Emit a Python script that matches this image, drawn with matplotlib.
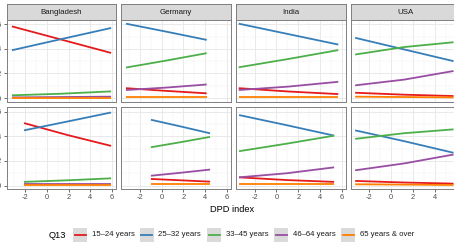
import matplotlib.pyplot as plt
from matplotlib.patches import Rectangle
from matplotlib.lines import Line2D

plt.rcParams['font.family'] = ['Liberation Sans', 'DejaVu Sans']

countries = ['Bangladesh', 'Germany', 'India', 'USA']
age_groups = ['15–24 years', '25–32 years', '33–45 years', '46–64 years', '65 years & over']
colors = ['#E41A1C', '#377EB8', '#4DAF4A', '#984EA3', '#FF7F00']

# DPD index range covered in each panel (start, end)
x_top = [(-3.2, 5.9), (-3.27, 4.14), (-3.46, 5.68), (-3.31, 5.72)]
x_bot = [(-2.09, 5.9), (-0.98, 4.45), (-3.43, 5.3), (-3.31, 5.72)]

# value at start, middle and end of the range, one row per age group
bgd_top = [[0.583, 0.475, 0.367], [0.389, 0.480, 0.570], [0.022, 0.035, 0.054],
           [0.005, 0.008, 0.011], [0.002, 0.002, 0.002]]
deu_top = [[0.080, 0.058, 0.038], [0.605, 0.540, 0.473], [0.248, 0.305, 0.365],
           [0.065, 0.085, 0.110], [0.011, 0.011, 0.011]]
ind_top = [[0.080, 0.053, 0.032], [0.605, 0.520, 0.435], [0.250, 0.318, 0.390],
           [0.065, 0.093, 0.132], [0.011, 0.011, 0.011]]
usa_top = [[0.043, 0.027, 0.016], [0.490, 0.395, 0.300], [0.354, 0.415, 0.454],
           [0.103, 0.150, 0.220], [0.011, 0.008, 0.005]]

bgd_bot = [[0.507, 0.410, 0.322], [0.448, 0.520, 0.593], [0.030, 0.043, 0.059],
           [0.010, 0.010, 0.010], [0.003, 0.003, 0.003]]
deu_bot = [[0.054, 0.043, 0.032], [0.534, 0.480, 0.424], [0.311, 0.352, 0.395],
           [0.080, 0.104, 0.130], [0.011, 0.011, 0.011]]
ind_bot = [[0.067, 0.045, 0.030], [0.572, 0.490, 0.405], [0.279, 0.340, 0.405],
           [0.067, 0.100, 0.148], [0.011, 0.011, 0.011]]
usa_bot = [[0.038, 0.025, 0.016], [0.448, 0.360, 0.266], [0.379, 0.425, 0.456],
           [0.124, 0.180, 0.252], [0.011, 0.008, 0.005]]

top_rows = [bgd_top, deu_top, ind_top, usa_top]
bot_rows = [bgd_bot, deu_bot, ind_bot, usa_bot]

x_ticks = [-2, 0, 2, 4, 6]
y_ticks = [0.0, 0.2, 0.4, 0.6]
y_labels = ['0.0', '0.2', '0.4', '0.6']

W, H = 454, 252
fig = plt.figure(figsize=(W / 100, H / 100), dpi=100)


def rect(left, top, w, h):
    return [left / W, 1 - (top + h) / H, w / W, h / H]


lefts = [6.5, 121.3, 236.1, 350.9]
pw = 109.5
border = '#7F7F7F'


def style_panel(ax, col, bottom):
    ax.set_xlim(-3.7, 6.35)
    ax.set_ylim(-0.03, 0.635)
    ax.set_xticks(x_ticks)
    ax.set_xticks([-3, -1, 1, 3, 5], minor=True)
    ax.set_yticks(y_ticks)
    ax.set_yticks([0.1, 0.3, 0.5], minor=True)
    ax.grid(True, which='major', color='#E6E6E6', lw=0.6)
    ax.grid(True, which='minor', color='#F2F2F2', lw=0.35)
    ax.set_axisbelow(True)
    for s in ax.spines.values():
        s.set_color(border)
        s.set_linewidth(0.7)
    ax.tick_params(which='minor', length=0)
    ax.tick_params(which='major', length=2, width=0.5, color='#333333',
                   labelsize=5.3, labelcolor='#4D4D4D', pad=1.2)
    if col == 0:
        ax.set_yticklabels(y_labels)
    else:
        ax.tick_params(axis='y', which='major', length=0, labelleft=False)
    if bottom:
        ax.set_xticklabels([str(t) for t in x_ticks])
    else:
        ax.tick_params(axis='x', which='major', length=0, labelbottom=False)


for i, name in enumerate(countries):
    # strip
    sax = fig.add_axes(rect(lefts[i], 4, pw, 16))
    sax.set_facecolor('#D9D9D9')
    sax.set_xticks([])
    sax.set_yticks([])
    for s in sax.spines.values():
        s.set_color(border)
        s.set_linewidth(0.7)
    sax.text(0.5, 0.5, name, ha='center', va='center', fontsize=5.7,
             color='#1A1A1A', transform=sax.transAxes)

    for row, (top, h, xr, data) in enumerate([(20, 81.7, x_top, top_rows),
                                              (107.3, 82, x_bot, bot_rows)]):
        ax = fig.add_axes(rect(lefts[i], top, pw, h))
        x0, x1 = xr[i]
        xs = [x0, (x0 + x1) / 2, x1]
        for vals, c in zip(data[i], colors):
            ax.plot(xs, vals, color=c, lw=1.3, solid_capstyle='butt')
        style_panel(ax, i, row == 1)

fig.text(232.5 / W, 1 - 209 / H, 'DPD index', ha='center', va='center',
         fontsize=6.7, color='black')

# legend
ly = 235
fig.text(49 / W, 1 - ly / H, 'Q13', ha='left', va='center', fontsize=6.7)
key_x = [73, 139.5, 207, 274, 341]
for kx, lab, c in zip(key_x, age_groups, colors):
    fig.patches.append(Rectangle((kx / W, 1 - (ly + 7) / H), 14 / W, 14 / H,
                                 transform=fig.transFigure, facecolor='#DADADA',
                                 edgecolor='none'))
    fig.lines.append(Line2D([(kx + 1.5) / W, (kx + 12.5) / W],
                            [1 - ly / H, 1 - ly / H], transform=fig.transFigure,
                            color=c, lw=1.3))
    fig.text((kx + 19) / W, 1 - ly / H, lab, ha='left', va='center',
             fontsize=5.6, color='#1A1A1A')

fig.savefig('out.png', dpi=100)
